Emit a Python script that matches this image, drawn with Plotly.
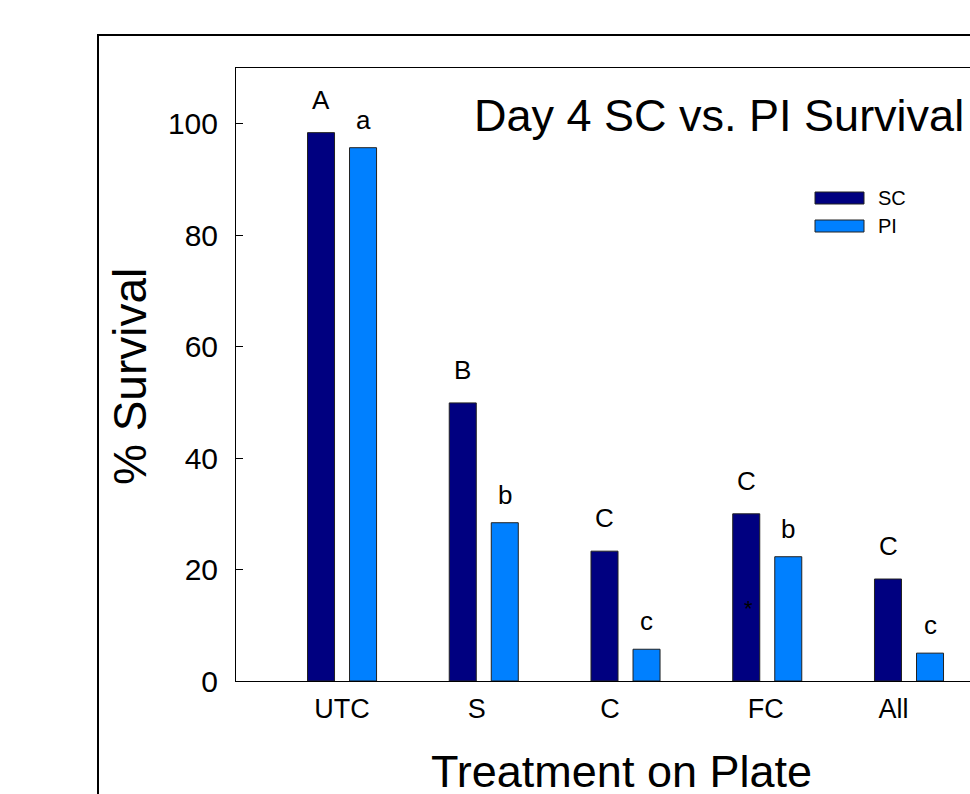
import plotly.graph_objects as go

# ---- data ----
categories = ["UTC", "S", "C", "FC", "All"]
sc_values = [98.4, 49.9, 23.3, 30.0, 18.3]
pi_values = [95.7, 28.4, 5.7, 22.3, 5.0]
sc_letters = ["A", "B", "C", "C", "C"]
pi_letters = ["a", "b", "c", "b", "c"]
series_names = ["SC", "PI"]
y_ticks = [0, 20, 40, 60, 80, 100]
asterisk_cat = "FC"
asterisk_value = 13.0

# ---- styling / layout constants ----
W, H = 970, 794
L, T, R, B = 236, 68, 0, 113
PW, PH = W - L - R, H - T - B
FONT = "Liberation Sans, Arial, sans-serif"
SC_COLOR = "#000080"
PI_COLOR = "#0080FF"
label_shift = [0.0, -0.05, -0.11, -0.01, -0.11]  # tick label nudges (category units)


def px(xp):
    return (xp - L) / PW


def py(yp):
    return (H - B - yp) / PH


idx = list(range(len(categories)))

fig = go.Figure()
fig.add_trace(go.Bar(x=idx, y=sc_values, name=series_names[0], marker=dict(color=SC_COLOR, line=dict(color="#222", width=1)), showlegend=False))
fig.add_trace(go.Bar(x=idx, y=pi_values, name=series_names[1], marker=dict(color=PI_COLOR, line=dict(color="#222", width=1)), showlegend=False))

annotations = []
for i in idx:
    annotations.append(dict(x=i, y=sc_values[i], text=sc_letters[i], showarrow=False, xshift=-21, yshift=33,
                            yanchor="middle", font=dict(family=FONT, size=26, color="black")))
    annotations.append(dict(x=i, y=pi_values[i], text=pi_letters[i], showarrow=False, xshift=21, yshift=28,
                            yanchor="middle", font=dict(family=FONT, size=26, color="black")))
annotations.append(dict(x=categories.index(asterisk_cat), y=asterisk_value, text="*", showarrow=False, xshift=-19,
                        yanchor="middle", font=dict(family=FONT, size=22, color="black")))

# title
annotations.append(dict(xref="paper", yref="paper", x=px(472), y=py(115), text="Day 4 SC vs. PI Survival",
                        showarrow=False, xanchor="left", yanchor="middle", font=dict(family=FONT, size=45, color="black")))
# axis titles
annotations.append(dict(xref="paper", yref="paper", x=px(130), y=py(377), text="% Survival", textangle=-90,
                        showarrow=False, xanchor="center", yanchor="middle", font=dict(family=FONT, size=46, color="black")))
annotations.append(dict(xref="paper", yref="paper", x=px(621), y=py(771), text="Treatment on Plate",
                        showarrow=False, xanchor="center", yanchor="middle", font=dict(family=FONT, size=45, color="black")))

# custom legend
shapes = []
leg_rows = [(198, SC_COLOR), (226, PI_COLOR)]
for (yc, col), name in zip(leg_rows, series_names):
    shapes.append(dict(type="rect", xref="paper", yref="paper", x0=px(815), x1=px(864), y0=py(yc + 6), y1=py(yc - 6),
                       fillcolor=col, line=dict(color="#222", width=1)))
    annotations.append(dict(xref="paper", yref="paper", x=px(876), y=py(yc), text=name, showarrow=False,
                            xanchor="left", yanchor="middle", font=dict(family=FONT, size=20, color="black")))

# outer frame
shapes.append(dict(type="rect", xref="paper", yref="paper", x0=px(98), x1=1.3, y0=-0.4, y1=py(35),
                   line=dict(color="black", width=2), fillcolor="rgba(0,0,0,0)", layer="above"))

fig.update_layout(
    width=W, height=H,
    margin=dict(l=L, r=R, t=T, b=B, pad=0),
    paper_bgcolor="white", plot_bgcolor="white",
    barmode="group", bargap=0.407, bargroupgap=0.357,
    annotations=annotations, shapes=shapes,
    showlegend=False,
    font=dict(family=FONT, color="black"),
)
fig.update_xaxes(
    range=[-0.748, (W - R - 342) / 141.75],
    tickmode="array", tickvals=[i + s for i, s in zip(idx, label_shift)], ticktext=categories,
    ticks="", showline=True, linecolor="black", linewidth=1, mirror=True, showgrid=False, zeroline=False,
    tickfont=dict(family=FONT, size=27, color="black"), ticklabelstandoff=4,
)
fig.update_yaxes(
    range=[0, 110], tickmode="array", tickvals=y_ticks,
    ticks="inside", ticklen=7, tickcolor="black", showline=True, linecolor="black", linewidth=1,
    showgrid=False, zeroline=False, tickfont=dict(family=FONT, size=30, color="black"), ticklabelstandoff=11,
)

fig.write_html(
    "out.html",
    config={"displayModeBar": False},
    post_script="document.body.style.margin='0';document.body.style.overflow='hidden';"
                "document.documentElement.style.overflow='hidden';",
)
